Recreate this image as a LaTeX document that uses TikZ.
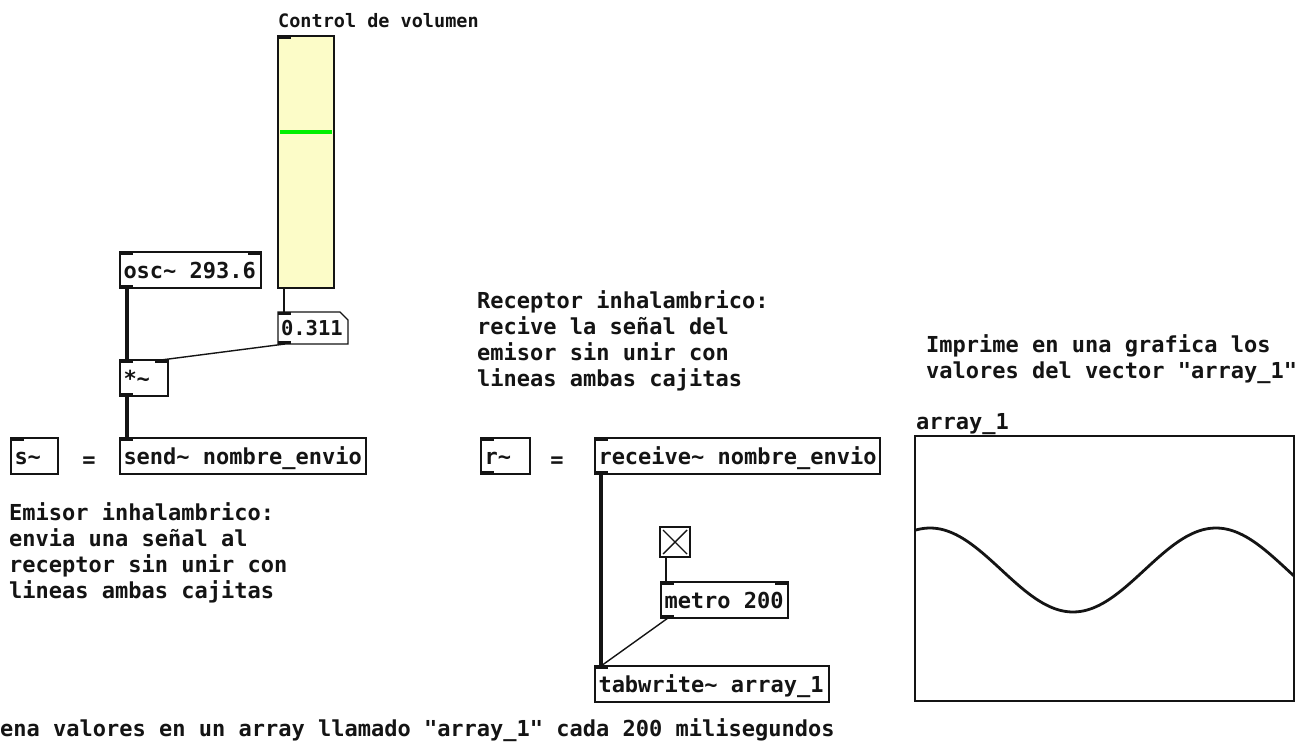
\documentclass[tikz,border=0pt]{standalone}
\usepackage{fontspec}
\newfontfamily\pdmono{DejaVu Sans Mono}
\newcommand\pdtilde{\char`\~}
% one fixed-width blank cell of the monospaced font
\newcommand\pdsp{\hphantom{0}}
\newcommand\pdfont{\pdmono\fontsize{22}{26}\selectfont\bfseries}
\newcommand\pdnote{\pdmono\fontsize{22}{26}\selectfont\bfseries}
\newcommand\pdsmall{\pdmono\fontsize{18.5}{22}\selectfont\bfseries}
\definecolor{slidebg}{RGB}{252,252,200}
\definecolor{slidemark}{RGB}{0,240,0}
\definecolor{ink}{RGB}{20,20,20}
\tikzset{
  pdbox/.style={draw=ink, line width=1.4pt, outer sep=0pt, inner xsep=3.5pt, inner ysep=0pt,
    minimum height=36pt, anchor=north west, font=\pdfont, text=ink,
    text width=#1, align=left, text height=16pt, text depth=0pt},
  note/.style={anchor=base west, inner sep=0pt, font=\pdnote, text=ink, align=left},
  port/.style={fill=ink},
  sig/.style={draw=ink, line width=3.6pt},
  ctl/.style={draw=ink, line width=1.4pt},
}
\begin{document}
\begin{tikzpicture}[x=1pt, y=-1pt]
\useasboundingbox (0,0) rectangle (1308,743);

% ---- volume slider ----
\node[anchor=base west, inner sep=0pt, font=\pdsmall, text=ink] (voltxt) at (278,28) {Control de volumen};
\node[draw=ink, fill=slidebg, line width=1.4pt, outer sep=0pt, anchor=north west,
      minimum width=56pt, minimum height=252pt, inner sep=0pt] (vol) at (278,36) {};
\draw[slidemark, line width=4pt] ([xshift=2pt,yshift=-96pt]vol.north west) -- ([xshift=-2pt,yshift=-96pt]vol.north east);
\fill[port] (vol.north west) rectangle ++(13,3);

% ---- number box ----
\node[anchor=north west, outer sep=0pt, inner xsep=3pt, inner ysep=0pt, minimum width=70pt,
      minimum height=32pt, font=\pdmono\fontsize{20.5}{24}\selectfont\bfseries, text=ink,
      text width=64pt, align=left, text height=15pt, text depth=0pt] (num) at (278,312) {\mbox{0.311}};
\draw[ink, line width=1.4pt] (num.north west) -- ([xshift=-8pt]num.north east)
  -- ([yshift=-8pt]num.north east) -- (num.south east) -- (num.south west) -- cycle;
\fill[port] (num.north west) rectangle ++(13,3);
\fill[port] (num.south west) rectangle ++(13,-3);

% ---- audio chain ----
\node[pdbox=134pt] (osc) at (120,252) {\mbox{osc\pdtilde\pdsp293.6}};
\node[pdbox=41pt] (mul) at (120,360) {\mbox{*\pdtilde}};
\node[pdbox=239pt] (send) at (120,438) {\mbox{send\pdtilde\pdsp nombre\_envio}};
\node[pdbox=40pt] (s) at (11,438) {\mbox{s\pdtilde}};
\node[font=\pdfont, text=ink, inner sep=0pt] (eq1) at (89,462) {=};

\fill[port] (osc.north west) rectangle ++(13,3);
\fill[port] (osc.north east) rectangle ++(-13,3);
\fill[port] (osc.south west) rectangle ++(13,-3);
\fill[port] (mul.north west) rectangle ++(13,3);
\fill[port] (mul.north east) rectangle ++(-13,3);
\fill[port] (mul.south west) rectangle ++(13,-3);
\fill[port] (send.north west) rectangle ++(13,3);
\fill[port] (s.north west) rectangle ++(13,3);

\draw[sig] ([xshift=7pt]osc.south west) -- ([xshift=7pt]mul.north west);
\draw[sig] ([xshift=7pt]mul.south west) -- ([xshift=7pt]send.north west);
\draw[ctl] ([xshift=6pt]vol.south west) -- ([xshift=6pt]num.north west);
\draw[ctl] ([xshift=7pt]num.south west) -- ([xshift=-7pt]mul.north east);

% ---- receiver chain ----
\node[pdbox=42pt] (r) at (481,438) {\mbox{r\pdtilde}};
\node[font=\pdfont, text=ink, inner sep=0pt] (eq2) at (557,462) {=};
\node[pdbox=278pt] (recv) at (595,438) {\mbox{receive\pdtilde\pdsp nombre\_envio}};
\node[draw=ink, line width=1.4pt, outer sep=0pt, anchor=north west, minimum size=30pt, inner sep=0pt] (tgl) at (660,527) {};
\draw[ink, line width=1.4pt] ([xshift=3pt,yshift=-3pt]tgl.north west) -- ([xshift=-3pt,yshift=3pt]tgl.south east);
\draw[ink, line width=1.4pt] ([xshift=-3pt,yshift=-3pt]tgl.north east) -- ([xshift=3pt,yshift=3pt]tgl.south west);
\node[pdbox=120pt] (metro) at (661,582) {\mbox{metro\pdsp200}};
\node[pdbox=227pt] (tab) at (595,666) {\mbox{tabwrite\pdtilde\pdsp array\_1}};

\fill[port] (r.north west) rectangle ++(13,3);
\fill[port] (r.south west) rectangle ++(13,-3);
\fill[port] (recv.north west) rectangle ++(13,3);
\fill[port] (recv.south west) rectangle ++(13,-3);
\fill[port] (metro.north west) rectangle ++(13,3);
\fill[port] (metro.north east) rectangle ++(-13,3);
\fill[port] (metro.south west) rectangle ++(13,-3);
\fill[port] (tab.north west) rectangle ++(13,3);

\draw[sig] ([xshift=6pt]recv.south west) -- ([xshift=6pt]tab.north west);
\draw[ctl] ([xshift=6pt]tgl.south west) -- ([xshift=5pt]metro.north west);
\draw[ctl] ([xshift=7pt]metro.south west) -- ([xshift=6pt]tab.north west);

% ---- array display ----
\node[note] (arrlbl) at (916,429) {array\_1};
\node[draw=ink, line width=1.4pt, outer sep=0pt, anchor=north west, minimum width=379pt,
      minimum height=265pt, inner sep=0pt] (arr) at (915,436) {};
\begin{scope}
  \clip (arr.north west) rectangle (arr.south east);
  \draw[ink, line width=2.8pt] plot[domain=915:1294, samples=120, smooth]
    (\x, {570-42*cos(1.25874*(\x-930))});
\end{scope}

% ---- comments (anchored on the baseline of their last line) ----
\node[note] (c1) at (477,386) {Receptor inhalambrico:\\recive la señal del\\emisor sin unir con\\lineas ambas cajitas};
\node[note] (c2) at (9,598) {Emisor inhalambrico:\\envia una señal al\\receptor sin unir con\\lineas ambas cajitas};
\node[note] (c3) at (926,378) {Imprime en una grafica los\\valores del vector "array\_1"};
\node[note] (c4) at (0,736) {ena valores en un array llamado "array\_1" cada 200 milisegundos};
\end{tikzpicture}
\end{document}
